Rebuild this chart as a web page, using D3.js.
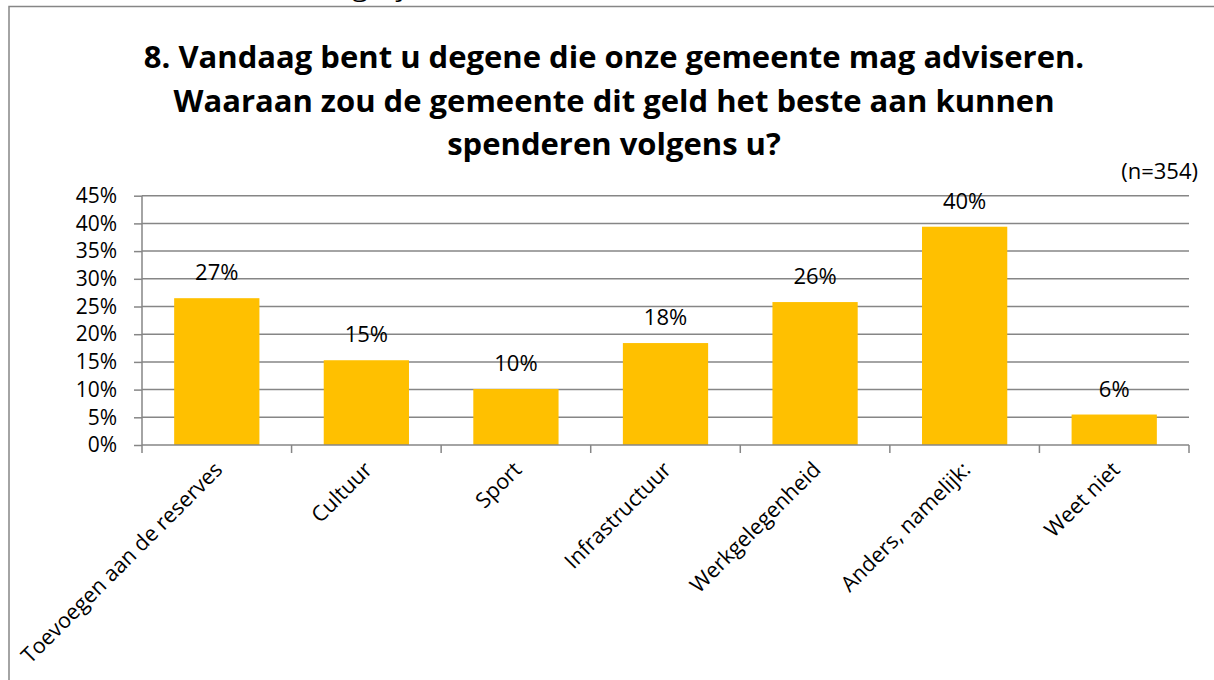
<!DOCTYPE html>
<html>
<head>
<meta charset="utf-8">
<script src="https://cdn.jsdelivr.net/npm/d3@7"></script>
<style>
  body { margin: 0; background: #fff; }
  text { font-family: "Open Sans", "Noto Sans", sans-serif; fill: #000; }
</style>
</head>
<body>
<script>
const categories = ["Toevoegen aan de reserves", "Cultuur", "Sport", "Infrastructuur",
                    "Werkgelegenheid", "Anders, namelijk:", "Weet niet"];
const values = [26.5, 15.3, 10.1, 18.4, 25.8, 39.4, 5.5];
const valueLabels = ["27%", "15%", "10%", "18%", "26%", "40%", "6%"];
const yTicks = [0, 5, 10, 15, 20, 25, 30, 35, 40, 45];
const titleLines = ["8. Vandaag bent u degene die onze gemeente mag adviseren.",
                    "Waaraan zou de gemeente dit geld het beste aan kunnen",
                    "spenderen volgens u?"];

const W = 1214, H = 680;
const margin = {top: 195.7, right: 25, bottom: 235, left: 142};
const width = W - margin.left - margin.right;
const height = H - margin.top - margin.bottom;

const svg = d3.select("body").append("svg")
   .attr("width", W)
   .attr("height", H);

// cut-off note above the chart frame
svg.append("text")
   .attr("x", 2).attr("y", -3)
   .attr("textLength", 425)
   .attr("lengthAdjust", "spacingAndGlyphs")
   .style("font-size", "22px")
   .text("(meerdere antwoorden mogelijk)");

// chart frame (runs off the right and bottom)
svg.append("rect")
   .attr("x", 9).attr("y", 6.5)
   .attr("width", 1300).attr("height", 800)
   .attr("fill", "#fff")
   .attr("stroke", "#868686")
   .attr("stroke-width", 1.5);

svg.append("g").selectAll("text")
   .data(titleLines)
   .enter()
   .append("text")
   .attr("x", 614)
   .attr("y", (d, i) => 68 + i * 43.5)
   .attr("text-anchor", "middle")
   .style("font-size", "31px")
   .style("font-weight", "bold")
   .text(d => d);

svg.append("text")
   .attr("x", 1198).attr("y", 179)
   .attr("text-anchor", "end")
   .style("font-size", "22px")
   .text("(n=354)");

const g = svg.append("g")
   .attr("transform", "translate(" + margin.left + "," + margin.top + ")");

const x = d3.scaleBand()
   .domain(categories)
   .range([0, width])
   .paddingInner(0.43)
   .paddingOuter(0.215);

const y = d3.scaleLinear()
   .domain([0, 45])
   .range([height, 0]);

// gridlines
g.append("g")
   .selectAll("line")
   .data(yTicks.slice(1))
   .enter()
   .append("line")
   .attr("x1", 0).attr("x2", width)
   .attr("y1", d => y(d)).attr("y2", d => y(d))
   .attr("stroke", "#868686")
   .attr("stroke-width", 1.5);

// y axis
const yAxis = g.append("g")
   .call(d3.axisLeft(y).tickValues(yTicks).tickSize(8).tickPadding(17).tickFormat(d => d + "%"));
yAxis.selectAll("line").attr("stroke", "#868686").attr("stroke-width", 1.5);
yAxis.select(".domain").attr("stroke", "#868686").attr("stroke-width", 1.5)
   .attr("d", "M0," + height + "V0");
yAxis.selectAll("text").style("font-size", "21px").attr("fill", "#000");

// bars
g.selectAll("rect.bar")
   .data(values)
   .enter()
   .append("rect")
   .attr("class", "bar")
   .attr("x", (d, i) => x(categories[i]))
   .attr("y", d => y(d))
   .attr("width", x.bandwidth())
   .attr("height", d => height - y(d))
   .attr("fill", "#FFC000");

// value labels
g.selectAll("text.val")
   .data(values)
   .enter()
   .append("text")
   .attr("class", "val")
   .attr("x", (d, i) => x(categories[i]) + x.bandwidth() / 2)
   .attr("y", d => y(d) - 18)
   .attr("text-anchor", "middle")
   .style("font-size", "22px")
   .text((d, i) => valueLabels[i]);

// x axis with ticks at category boundaries
const step = x.step();
const xa = g.append("g").attr("transform", "translate(0," + height + ")");
xa.append("line")
   .attr("x1", 0).attr("x2", width)
   .attr("stroke", "#868686").attr("stroke-width", 1.5);
xa.selectAll("line.tick")
   .data(d3.range(categories.length + 1))
   .enter()
   .append("line")
   .attr("class", "tick")
   .attr("x1", i => i * step).attr("x2", i => i * step)
   .attr("y1", 0).attr("y2", 8)
   .attr("stroke", "#868686").attr("stroke-width", 1.5);

xa.selectAll("text")
   .data(categories)
   .enter()
   .append("text")
   .attr("transform", d => "translate(" + (x(d) + x.bandwidth() / 2 + 7) + ",26) rotate(-45)")
   .attr("text-anchor", "end")
   .style("font-size", "21.5px")
   .text(d => d);
</script>
</body>
</html>
